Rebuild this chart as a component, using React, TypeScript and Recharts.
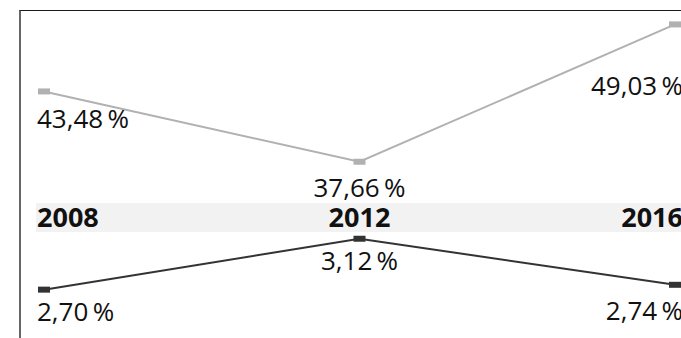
import React from 'react';
import { LineChart, Line, XAxis, YAxis, ReferenceArea, LabelList } from 'recharts';

const years = ['2008', '2012', '2016'];
const upperValues = [43.48, 37.66, 49.03];
const lowerValues = [2.7, 3.12, 2.74];

const UPPER_COLOR = '#b1b1b1';
const LOWER_COLOR = '#333333';
const FONT = '"Open Sans", "Noto Sans", sans-serif';

const data = years.map((year, i) => ({
  year,
  upper: upperValues[i],
  lower: lowerValues[i],
}));

const formatPct = (v: number) => `${v.toFixed(2).replace('.', ',')}\u2009%`;

// baseline offset of each value label below its point
const UPPER_DY = [37, 35, 71];
const LOWER_DY = [31, 31, 35];
const ANCHORS = ['start', 'middle', 'end'];
const ANCHOR_DX = [-7, 0, 8];

const SquareDot = (color: string) => (props: any) => {
  const { cx, cy, index } = props;
  if (cx == null || cy == null) return null;
  return <rect key={`dot-${index}`} x={cx - 6} y={cy - 3} width={12} height={6} fill={color} />;
};

const valueLabel = (dys: number[]) => (props: any) => {
  const { x, y, value, index } = props;
  return (
    <text
      x={x + ANCHOR_DX[index]}
      y={y + dys[index]}
      textAnchor={ANCHORS[index]}
      fontFamily={FONT}
      fontSize={26}
      fill="#111"
    >
      {formatPct(value)}
    </text>
  );
};

const YearTick = (props: any) => {
  const { x, payload, index } = props;
  return (
    <text
      x={x + ANCHOR_DX[index]}
      y={227}
      textAnchor={ANCHORS[index]}
      fontFamily={FONT}
      fontSize={27}
      fontWeight="bold"
      fill="#111"
    >
      {payload.value}
    </text>
  );
};

// band behind the year labels, stretched a bit past the first/last point
const Band = (props: any) => {
  const { x, y, width, height } = props;
  return <rect x={x - 8} y={y} width={width + 20} height={height} fill="#f2f2f2" />;
};

export default function App() {
  return (
    <div
      style={{
        position: 'absolute',
        left: 0,
        top: 0,
        width: 681,
        height: 338,
        overflow: 'hidden',
        background: '#fff',
      }}
    >
      <div
        style={{
          position: 'absolute',
          left: 19,
          top: 10,
          width: 700,
          height: 400,
          borderLeft: '2px solid #666',
          borderTop: '1px solid #1a1a1a',
        }}
      />
      <div style={{ position: 'absolute', left: 0, top: 0 }}>
        <LineChart width={681} height={338} data={data} margin={{ top: -1, right: 0, bottom: 0, left: 36 }}>
          <XAxis
            dataKey="year"
            orientation="top"
            height={1}
            axisLine={false}
            tickLine={false}
            padding={{ left: 8, right: 6 }}
            tick={<YearTick />}
            interval={0}
          />
          <YAxis yAxisId="upper" hide domain={[23.07, 51.05]} allowDataOverflow />
          <YAxis yAxisId="lower" hide domain={[2.301, 5.09]} allowDataOverflow />
          <ReferenceArea yAxisId="upper" y1={31.84} y2={34.25} shape={<Band />} />
          <Line
            yAxisId="upper"
            dataKey="upper"
            stroke={UPPER_COLOR}
            strokeWidth={2}
            dot={SquareDot(UPPER_COLOR)}
            activeDot={false}
            isAnimationActive={false}
          >
            <LabelList dataKey="upper" content={valueLabel(UPPER_DY)} />
          </Line>
          <Line
            yAxisId="lower"
            dataKey="lower"
            stroke={LOWER_COLOR}
            strokeWidth={2}
            dot={SquareDot(LOWER_COLOR)}
            activeDot={false}
            isAnimationActive={false}
          >
            <LabelList dataKey="lower" content={valueLabel(LOWER_DY)} />
          </Line>
        </LineChart>
      </div>
    </div>
  );
}
